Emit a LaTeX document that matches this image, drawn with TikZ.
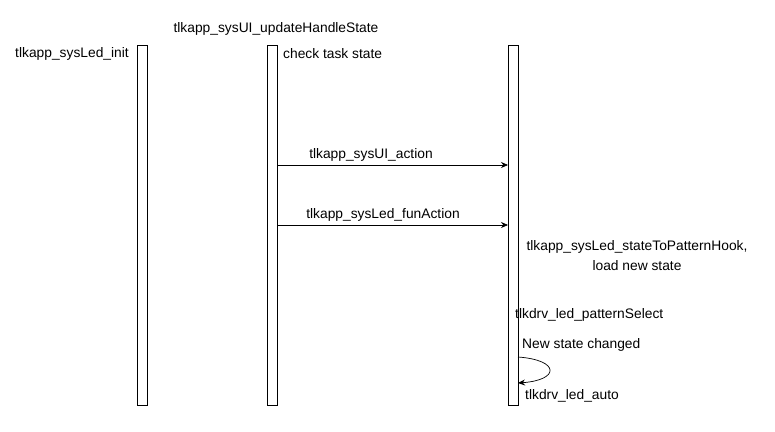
\documentclass[tikz,border=0pt]{standalone}
\usepackage{fontspec}
\setmainfont{Liberation Sans}
\usetikzlibrary{arrows.meta}
\begin{document}
\begin{tikzpicture}[x=1pt,y=-1pt,
  bar/.style={draw=black,fill=white,line width=0.8pt},
  lbl/.style={font=\fontsize{13.8}{20}\selectfont,inner sep=0pt},
  msg/.style={-{Stealth[length=7pt,width=6pt]},line width=0.7pt}]
\useasboundingbox (0,0) rectangle (775,431);
\draw[bar] (137,45) rectangle (147,405);
\draw[bar] (267,45) rectangle (277,405);
\draw[bar] (508,45) rectangle (518,405);
\node[lbl] (t1) at (72,54) {tlkapp\_sysLed\_init};
\node[lbl] (t2) at (276,29) {tlkapp\_sysUI\_updateHandleState};
\node[lbl,anchor=west] (t3) at (283,54) {check task state};
\coordinate (a1) at (277,165); \coordinate (b1) at (508,165);
\coordinate (a2) at (277,225); \coordinate (b2) at (508,225);
\draw[msg] (a1) -- (b1);
\draw[msg] (a2) -- (b2);
\node[lbl] (m1) at (371,155) {tlkapp\_sysUI\_action};
\node[lbl] (m2) at (383,215) {tlkapp\_sysLed\_funAction};
\node[lbl,align=center] (h) at (637,256) {tlkapp\_sysLed\_stateToPatternHook,\\load new state};
\node[lbl,anchor=west] (p) at (515,315) {tlkdrv\_led\_patternSelect};
\node[lbl,anchor=west] (n) at (522,345) {New state changed};
\coordinate (s) at (518,357); \coordinate (e) at (518,383);
\draw[msg] (s) .. controls (560,360) and (560,380) .. (e);
\node[lbl,anchor=west] (au) at (525,396) {tlkdrv\_led\_auto};
\end{tikzpicture}
\end{document}
